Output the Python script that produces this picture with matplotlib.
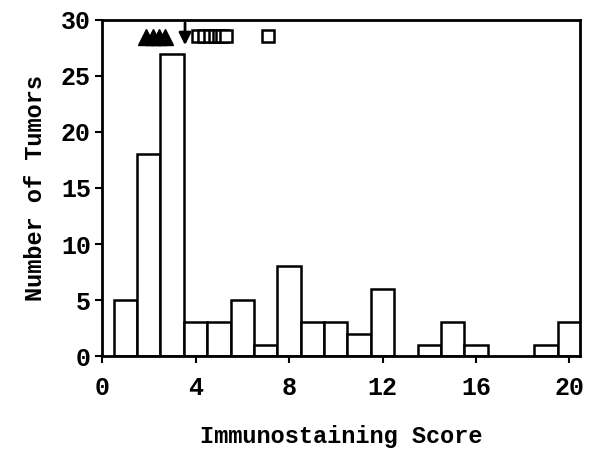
import matplotlib
matplotlib.use("Agg")
import matplotlib.pyplot as plt

scores = [1, 2, 3, 4, 5, 6, 7, 8, 9, 10, 11, 12, 14, 15, 16, 19, 20]
counts = [5, 18, 27, 3, 3, 5, 1, 8, 3, 3, 2, 6, 1, 3, 1, 1, 3]

tri_x = [1.9, 2.2, 2.45, 2.7]
sq_x = [4.1, 4.35, 4.6, 4.85, 5.0, 5.15, 5.3, 7.1]
arrow_x = 3.55
marker_y = 28.55

plt.rcParams['font.family'] = ['Liberation Mono', 'DejaVu Sans Mono']
plt.rcParams['font.weight'] = 'bold'
plt.rcParams['axes.labelweight'] = 'bold'

fig = plt.figure(figsize=(5.9, 4.53), dpi=100)
ax = fig.add_axes([0.173, 0.214, 0.81, 0.742])

ax.bar(scores, counts, width=1.0, facecolor='white', edgecolor='black', linewidth=1.8)
ax.plot(tri_x, [marker_y - 0.1] * len(tri_x), linestyle='none', marker='^', markersize=11,
        color='black')
ax.plot(sq_x, [marker_y] * len(sq_x), linestyle='none', marker='s', markersize=9,
        markerfacecolor='white', markeredgecolor='black', markeredgewidth=1.8)
ax.annotate('', xy=(arrow_x, 27.5), xytext=(arrow_x, 30),
            arrowprops=dict(arrowstyle='-|>', color='black', lw=2, mutation_scale=18))

ax.set_xlim(0, 20.45)
ax.set_ylim(0, 30)
ax.set_xticks([0, 4, 8, 12, 16, 20])
ax.set_yticks([0, 5, 10, 15, 20, 25, 30])
ax.tick_params(axis='both', direction='out', length=5, width=1.5, labelsize=18)
ax.tick_params(axis='x', pad=9)
ax.tick_params(axis='y', pad=3)
for s in ax.spines.values():
    s.set_linewidth(2)

ax.set_xlabel('Immunostaining Score', fontsize=17, labelpad=18)
ax.set_ylabel('Number of Tumors', fontsize=17, labelpad=10)

fig.savefig('out.png', dpi=100)
